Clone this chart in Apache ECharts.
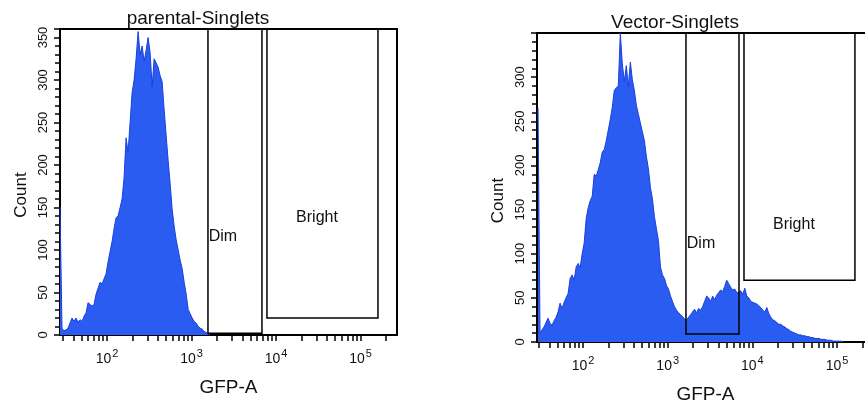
<!DOCTYPE html>
<html>
<head>
<meta charset="utf-8">
<script src="https://cdn.jsdelivr.net/npm/echarts@6/dist/echarts.min.js"></script>
<style>
  html, body { margin: 0; padding: 0; background: #fff; }
  #chart { width: 865px; height: 402px; }
</style>
</head>
<body>
<div id="chart"></div>
<script>
// GFP-A histograms (counts per log bin)
const binStep = 0.0237;       // bin width in decades
const parentalStart = 1.444;  // log10 of first bin
const parentalCounts = [
  150, 8, 5, 6, 8, 14, 20, 16, 20, 15, 18, 16, 22, 26, 38, 36, 34, 36, 48, 55,
  62, 60, 66, 72, 86, 98, 110, 125, 138, 140, 150, 160, 185, 232, 215, 250, 285, 300, 325, 357,
  330, 340, 322, 335, 350, 332, 292, 325, 320, 315, 305, 298, 265, 235, 205, 178, 148, 128, 112, 100,
  88, 78, 62, 48, 30, 25, 20, 16, 14, 10, 8, 7, 4, 3, 1, 0
];
const vectorStart = 1.469;
const vectorCounts = [
  265, 10, 14, 17, 22, 27, 21, 19, 24, 28, 34, 44, 38, 45, 50, 55, 72, 76, 70, 85,
  89, 84, 100, 112, 140, 152, 160, 165, 190, 188, 195, 203, 215, 218, 228, 240, 252, 266, 285, 288,
  290, 350, 315, 295, 313, 289, 317, 297, 285, 268, 258, 248, 238, 228, 210, 196, 175, 162, 142, 128,
  115, 85, 76, 72, 64, 60, 52, 46, 40, 36, 33, 31, 29, 26, 25, 28, 31, 34, 37, 33,
  38, 36, 40, 46, 52, 50, 46, 52, 48, 53, 56, 59, 57, 63, 70, 66, 62, 59, 60, 56,
  56, 58, 54, 61, 52, 50, 46, 45, 44, 43, 41, 39, 36, 34, 39, 32, 28, 25, 24, 22,
  20, 20, 18, 17, 15, 14, 12, 11, 10, 9, 8, 8, 7, 7, 6, 6, 5, 5, 4, 4,
  4, 3, 3, 3, 2, 2, 2, 1, 1, 1, 1, 1, 0
];

// gates: [low GFP, high GFP, low count]
const gateNames = ['Dim', 'Bright'];
const parentalGates = [[1567, 6823, 2], [7816, 161000, 20]];
const vectorGates = [[1644, 6950, 9], [7962, 162500, 70]];

// axis ticks
const decadeLabels = [100, 1000, 10000, 100000];
const gfpTicks = [
  30, 40, 50, 60, 70, 80, 90,
  100, 200, 300, 400, 500, 600, 700, 800, 900,
  1000, 2000, 3000, 4000, 5000, 6000, 7000, 8000, 9000,
  10000, 20000, 30000, 40000, 50000, 60000, 70000, 80000, 90000,
  100000, 200000
];

const FONT = 'Liberation Sans, Arial, sans-serif';
const BLUE = '#2b5cf2';
const BLUE_EDGE = '#1a40dc';

function gfpAxis(gridIndex, min, max) {
  return {
    type: 'value', gridIndex: gridIndex, min: min, max: max,
    name: 'GFP-A', nameLocation: 'middle', nameGap: 43,
    nameTextStyle: { fontSize: 19, color: '#111', fontFamily: FONT },
    axisLine: { onZero: false, lineStyle: { color: '#000', width: 2 } },
    axisTick: { customValues: gfpTicks.map(Math.log10), length: 6, lineStyle: { color: '#000', width: 1.5 } },
    axisLabel: {
      customValues: decadeLabels.map(Math.log10), margin: 13,
      color: '#111', fontSize: 14, fontFamily: FONT,
      formatter: v => '10{s|' + Math.round(v) + '}',
      rich: { s: { fontSize: 11, color: '#111', fontFamily: FONT, padding: [0, 0, 11, 1] } }
    },
    splitLine: { show: false }
  };
}

function countAxis(gridIndex, max) {
  return {
    type: 'value', gridIndex: gridIndex, min: 0, max: max, interval: 50,
    name: 'Count', nameLocation: 'middle', nameGap: 30, nameRotate: 90,
    nameTextStyle: { fontSize: 17, color: '#111', fontFamily: FONT, padding: [0, 26, 0, 0] },
    axisLine: { show: true, lineStyle: { color: '#000', width: 2 } },
    axisTick: { show: true, length: 6, lineStyle: { color: '#000', width: 1.5 } },
    minorTick: { show: true, splitNumber: 5, length: 5, lineStyle: { color: '#000', width: 1.5 } },
    axisLabel: { rotate: 90, margin: 10, fontSize: 13, color: '#111', fontFamily: FONT, showMaxLabel: false },
    splitLine: { show: false },
    minorSplitLine: { show: false }
  };
}

function histSeries(idx, start, counts) {
  return {
    type: 'line', xAxisIndex: idx, yAxisIndex: idx,
    data: counts.map((c, i) => [start + i * binStep, c]),
    symbol: 'none', silent: true, z: 2,
    lineStyle: { color: BLUE_EDGE, width: 1 },
    areaStyle: { color: BLUE, opacity: 1 }
  };
}

function gateSeries(idx, gates, yMax, labelAt) {
  return {
    type: 'custom', xAxisIndex: idx, yAxisIndex: idx, z: 5, silent: true,
    data: gates.map((g, i) => [Math.log10(g[0]), Math.log10(g[1]), g[2], yMax, i]),
    renderItem: (params, api) => {
      const i = api.value(4);
      const tl = api.coord([api.value(0), api.value(3)]);
      const br = api.coord([api.value(1), api.value(2)]);
      const lp = api.coord([Math.log10(labelAt[i][0]), labelAt[i][1]]);
      return {
        type: 'group',
        children: [
          { type: 'rect', shape: { x: tl[0], y: tl[1], width: br[0] - tl[0], height: br[1] - tl[1] },
            style: { fill: 'none', stroke: '#000', lineWidth: 1.5 } },
          { type: 'text', x: lp[0], y: lp[1],
            style: { text: gateNames[i], fill: '#111', fontSize: 16, fontFamily: FONT,
                     align: i === 0 ? 'left' : 'center', verticalAlign: 'middle' } }
        ]
      };
    }
  };
}

const chart = echarts.init(document.getElementById('chart'));
chart.setOption({
  animation: false,
  backgroundColor: '#fff',
  textStyle: { fontFamily: FONT },
  title: [
    { text: 'parental-Singlets', left: 198, top: 9, textAlign: 'center', padding: 0,
      textStyle: { fontSize: 19, fontWeight: 'normal', color: '#111', fontFamily: FONT } },
    { text: 'Vector-Singlets', left: 675, top: 13, textAlign: 'center', padding: 0,
      textStyle: { fontSize: 19, fontWeight: 'normal', color: '#111', fontFamily: FONT } }
  ],
  grid: [
    { left: 60, top: 29, width: 337, height: 306, show: true, borderColor: '#000', borderWidth: 2,
      containLabel: false, outerBoundsMode: 'none' },
    { left: 537, top: 33, width: 337, height: 309, show: true, borderColor: '#000', borderWidth: 2,
      containLabel: false, outerBoundsMode: 'none' }
  ],
  xAxis: [gfpAxis(0, 1.444, 5.432), gfpAxis(1, 1.457, 5.436)],
  yAxis: [countAxis(0, 360), countAxis(1, 350)],
  series: [
    histSeries(0, parentalStart, parentalCounts),
    histSeries(1, vectorStart, vectorCounts),
    gateSeries(0, parentalGates, 360, [[1600, 116], [30550, 138]]),
    gateSeries(1, vectorGates, 350, [[1680, 112], [30970, 133]])
  ]
});
</script>
</body>
</html>
